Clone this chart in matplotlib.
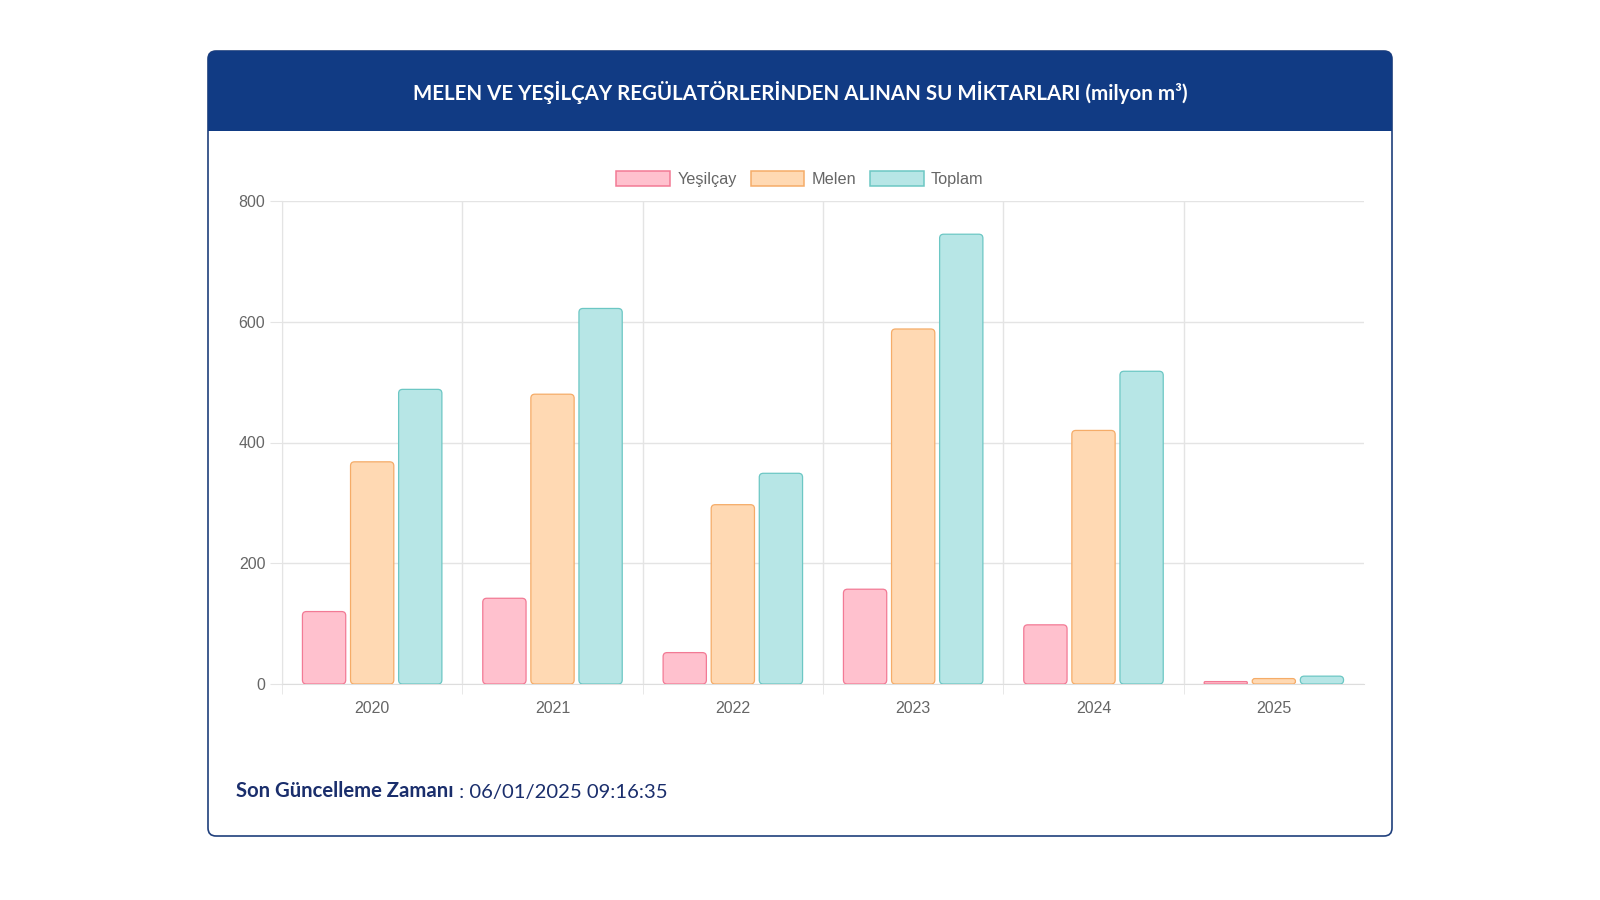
import numpy as np
import matplotlib
matplotlib.use("Agg")
import matplotlib.pyplot as plt
from matplotlib.patches import FancyBboxPatch, Rectangle, Patch

# Data (milyon m3)
years = ["2020", "2021", "2022", "2023", "2024", "2025"]
yesilcay = [120, 142, 52, 157, 98, 4]
melen = [368, 480, 297, 588, 420, 9]
toplam = [488, 622, 349, 745, 518, 13]

series_names = ["Yeşilçay", "Melen", "Toplam"]
fills = ["#ffc1ce", "#ffd9b3", "#b7e6e6"]
edges = ["#f27a95", "#f5ac68", "#6cc7c4"]

title = "MELEN VE YEŞİLÇAY REGÜLATÖRLERİNDEN ALINAN SU MİKTARLARI (milyon m³)"
footer_bold = "Son Güncelleme Zamanı"
footer_rest = " : 06/01/2025 09:16:35"

navy = "#113b84"
grid_col = "#e4e4e4"
tick_col = "#666666"

fig = plt.figure(figsize=(16, 9), dpi=100)

# background layer in pixel units (y downwards)
bg = fig.add_axes([0, 0, 1, 1])
bg.set_xlim(0, 1600)
bg.set_ylim(900, 0)
bg.axis("off")

card = FancyBboxPatch((208, 51), 1184, 785, boxstyle="round,pad=0,rounding_size=8",
                      fc="white", ec="#1f3f7c", lw=1.2, zorder=1)
bg.add_patch(card)
header = FancyBboxPatch((208, 51), 1184, 80, boxstyle="round,pad=0,rounding_size=8",
                        fc=navy, ec="none", zorder=2)
bg.add_patch(header)
bg.add_patch(Rectangle((208, 110), 1184, 21, fc=navy, ec="none", zorder=2))

bg.text(800, 92, title, color="white", fontsize=14.8, fontweight="bold",
        family="Lato", ha="center", va="center", zorder=3)

t1 = bg.text(236, 801, footer_bold, color="#1a2e6c", fontsize=14.6, fontweight="bold",
             family="Lato", ha="left", va="bottom", zorder=3)
bg.annotate(footer_rest, xy=(1, 0), xycoords=t1, color="#1a2e6c", fontsize=14.6,
            family="Lato", ha="left", va="bottom", zorder=3)

# chart area
ax = fig.add_axes([282 / 1600, 1 - 684 / 900, 1082 / 1600, 483 / 900])
ax.set_facecolor("none")
x = np.arange(len(years))
slot = 0.8 / 3
bar_w = slot * 0.9
ax.set_xlim(-0.5, len(years) - 0.5)
ax.set_ylim(0, 800)

# pixel scale of data units, for rounded corners
p0 = ax.transData.transform((0, 0))
p1 = ax.transData.transform((1, 1))
px_x = (p1[0] - p0[0])
px_y = (p1[1] - p0[1])
aspect = px_x / px_y
radius_px = 4

for i, vals in enumerate([yesilcay, melen, toplam]):
    bars = ax.bar(x + (i - 1) * slot, vals, width=bar_w, visible=False)
    for b in bars:
        bx, by = b.get_x(), b.get_y()
        bw, bh = b.get_width(), b.get_height()
        r = min(radius_px / px_x, bw / 2, bh * px_y / px_x / 2)
        ax.add_patch(FancyBboxPatch((bx, by), bw, bh,
                                    boxstyle="round,pad=0,rounding_size=%f" % r,
                                    mutation_aspect=aspect, fc=fills[i], ec=edges[i],
                                    lw=0.9, zorder=3))

# grid and ticks
ax.set_yticks(np.arange(0, 801, 200))
ax.set_xticks(x)
ax.set_xticklabels(years)
ax.set_xticks(np.arange(-0.5, len(years) - 0.5, 1), minor=True)
ax.grid(axis="y", color=grid_col, lw=1, zorder=0)
ax.grid(axis="x", which="minor", color=grid_col, lw=1, zorder=0)
ax.tick_params(axis="x", which="major", length=0, pad=12, labelsize=11.5, labelcolor=tick_col)
ax.tick_params(axis="x", which="minor", length=7, color=grid_col)
ax.tick_params(axis="y", length=8.5, pad=3.5, color=grid_col, labelsize=11.5, labelcolor=tick_col)
for lbl in ax.get_xticklabels() + ax.get_yticklabels():
    lbl.set_family("Liberation Sans")
for side in ["top", "right"]:
    ax.spines[side].set_visible(False)
for side in ["left", "bottom"]:
    ax.spines[side].set_color("#dddddd")
    ax.spines[side].set_zorder(0)

handles = [Patch(fc=fills[i], ec=edges[i], lw=1.1) for i in range(3)]
leg = fig.legend(handles, series_names, loc="center", bbox_to_anchor=(800 / 1600, 1 - 179 / 900),
                 ncol=3, frameon=False, handlelength=3.3, handleheight=1.05,
                 handletextpad=0.45, columnspacing=0.85,
                 prop={"family": "Liberation Sans", "size": 11.7})
for t in leg.get_texts():
    t.set_color(tick_col)

fig.savefig("out.png", dpi=100)
